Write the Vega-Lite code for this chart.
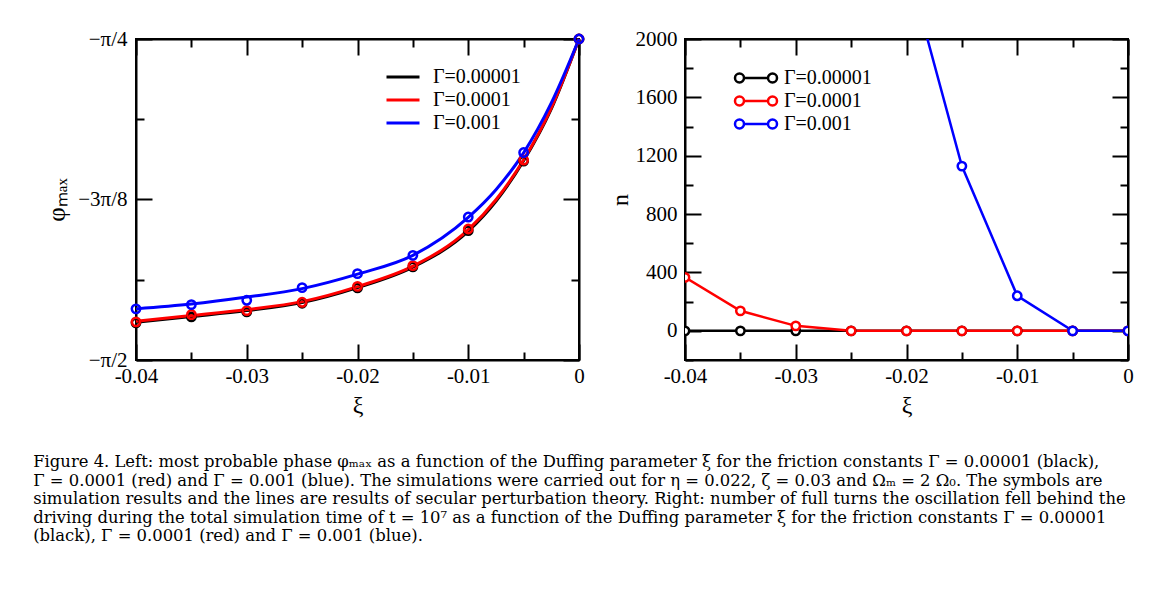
{
  "$schema": "https://vega.github.io/schema/vega-lite/v6.json",
  "background": "white",
  "padding": {"left": 33, "top": 27, "right": 5, "bottom": 5},
  "config": {
    "font": "Liberation Serif",
    "view": {"stroke": "black", "strokeWidth": 2},
    "axis": {
      "labelFont": "Liberation Serif", "labelFontSize": 21, "labelColor": "black", "labelFlush": false, "labelOverlap": false,
      "titleFont": "Liberation Serif", "titleFontSize": 24, "titleFontWeight": "normal", "titleColor": "black",
      "domainColor": "black", "domainWidth": 2, "tickColor": "black", "tickWidth": 2, "grid": false
    },
    "legend": {
      "labelFont": "Liberation Serif", "labelFontSize": 20, "labelColor": "black", "padding": 0
    }
  },
  "datasets": {
    "phase_lines": [
      {"xi": -0.04, "phi": -1.4785, "g": "Γ=0.00001"},
      {"xi": -0.035, "phi": -1.4645, "g": "Γ=0.00001"},
      {"xi": -0.03, "phi": -1.4499, "g": "Γ=0.00001"},
      {"xi": -0.025, "phi": -1.4303, "g": "Γ=0.00001"},
      {"xi": -0.02, "phi": -1.3937, "g": "Γ=0.00001"},
      {"xi": -0.015, "phi": -1.3436, "g": "Γ=0.00001"},
      {"xi": -0.01, "phi": -1.2557, "g": "Γ=0.00001"},
      {"xi": -0.0075, "phi": -1.1824, "g": "Γ=0.00001"},
      {"xi": -0.005, "phi": -1.0834, "g": "Γ=0.00001"},
      {"xi": -0.0025, "phi": -0.9564, "g": "Γ=0.00001"},
      {"xi": 0, "phi": -0.7854, "g": "Γ=0.00001"},
      {"xi": -0.04, "phi": -1.4760, "g": "Γ=0.0001"},
      {"xi": -0.035, "phi": -1.4621, "g": "Γ=0.0001"},
      {"xi": -0.03, "phi": -1.4474, "g": "Γ=0.0001"},
      {"xi": -0.025, "phi": -1.4279, "g": "Γ=0.0001"},
      {"xi": -0.02, "phi": -1.3912, "g": "Γ=0.0001"},
      {"xi": -0.015, "phi": -1.3412, "g": "Γ=0.0001"},
      {"xi": -0.01, "phi": -1.2520, "g": "Γ=0.0001"},
      {"xi": -0.0075, "phi": -1.1787, "g": "Γ=0.0001"},
      {"xi": -0.005, "phi": -1.0810, "g": "Γ=0.0001"},
      {"xi": -0.0025, "phi": -0.9540, "g": "Γ=0.0001"},
      {"xi": 0, "phi": -0.7854, "g": "Γ=0.0001"},
      {"xi": -0.04, "phi": -1.4457, "g": "Γ=0.001"},
      {"xi": -0.035, "phi": -1.4340, "g": "Γ=0.001"},
      {"xi": -0.03, "phi": -1.4169, "g": "Γ=0.001"},
      {"xi": -0.025, "phi": -1.3961, "g": "Γ=0.001"},
      {"xi": -0.02, "phi": -1.3607, "g": "Γ=0.001"},
      {"xi": -0.015, "phi": -1.3148, "g": "Γ=0.001"},
      {"xi": -0.01, "phi": -1.2220, "g": "Γ=0.001"},
      {"xi": -0.0075, "phi": -1.1543, "g": "Γ=0.001"},
      {"xi": -0.005, "phi": -1.0639, "g": "Γ=0.001"},
      {"xi": -0.0025, "phi": -0.9418, "g": "Γ=0.001"},
      {"xi": 0, "phi": -0.7854, "g": "Γ=0.001"}
    ],
    "phase_pts": [
      {"xi": -0.04, "phi": -1.4799, "g": "Γ=0.00001"},
      {"xi": -0.035, "phi": -1.4653, "g": "Γ=0.00001"},
      {"xi": -0.03, "phi": -1.4531, "g": "Γ=0.00001"},
      {"xi": -0.025, "phi": -1.4320, "g": "Γ=0.00001"},
      {"xi": -0.02, "phi": -1.3944, "g": "Γ=0.00001"},
      {"xi": -0.015, "phi": -1.3431, "g": "Γ=0.00001"},
      {"xi": -0.01, "phi": -1.2544, "g": "Γ=0.00001"},
      {"xi": -0.005, "phi": -1.0842, "g": "Γ=0.00001"},
      {"xi": 0, "phi": -0.7854, "g": "Γ=0.00001"},
      {"xi": -0.04, "phi": -1.4775, "g": "Γ=0.0001"},
      {"xi": -0.035, "phi": -1.4596, "g": "Γ=0.0001"},
      {"xi": -0.03, "phi": -1.4499, "g": "Γ=0.0001"},
      {"xi": -0.025, "phi": -1.4296, "g": "Γ=0.0001"},
      {"xi": -0.02, "phi": -1.3905, "g": "Γ=0.0001"},
      {"xi": -0.015, "phi": -1.3399, "g": "Γ=0.0001"},
      {"xi": -0.01, "phi": -1.2503, "g": "Γ=0.0001"},
      {"xi": -0.005, "phi": -1.0817, "g": "Γ=0.0001"},
      {"xi": 0, "phi": -0.7854, "g": "Γ=0.0001"},
      {"xi": -0.04, "phi": -1.4457, "g": "Γ=0.001"},
      {"xi": -0.035, "phi": -1.4352, "g": "Γ=0.001"},
      {"xi": -0.03, "phi": -1.4247, "g": "Γ=0.001"},
      {"xi": -0.025, "phi": -1.3937, "g": "Γ=0.001"},
      {"xi": -0.02, "phi": -1.3595, "g": "Γ=0.001"},
      {"xi": -0.015, "phi": -1.3148, "g": "Γ=0.001"},
      {"xi": -0.01, "phi": -1.2210, "g": "Γ=0.001"},
      {"xi": -0.005, "phi": -1.0632, "g": "Γ=0.001"},
      {"xi": 0, "phi": -0.7854, "g": "Γ=0.001"}
    ],
    "turns": [
      {"xi": -0.04, "n": 0, "g": "Γ=0.00001"},
      {"xi": -0.035, "n": 0, "g": "Γ=0.00001"},
      {"xi": -0.03, "n": 0, "g": "Γ=0.00001"},
      {"xi": -0.025, "n": 0, "g": "Γ=0.00001"},
      {"xi": -0.02, "n": 0, "g": "Γ=0.00001"},
      {"xi": -0.015, "n": 0, "g": "Γ=0.00001"},
      {"xi": -0.01, "n": 0, "g": "Γ=0.00001"},
      {"xi": -0.005, "n": 0, "g": "Γ=0.00001"},
      {"xi": 0, "n": 0, "g": "Γ=0.00001"},
      {"xi": -0.04, "n": 366, "g": "Γ=0.0001"},
      {"xi": -0.035, "n": 137, "g": "Γ=0.0001"},
      {"xi": -0.03, "n": 34, "g": "Γ=0.0001"},
      {"xi": -0.025, "n": 0, "g": "Γ=0.0001"},
      {"xi": -0.02, "n": 0, "g": "Γ=0.0001"},
      {"xi": -0.015, "n": 0, "g": "Γ=0.0001"},
      {"xi": -0.01, "n": 0, "g": "Γ=0.0001"},
      {"xi": -0.005, "n": 0, "g": "Γ=0.0001"},
      {"xi": 0, "n": 0, "g": "Γ=0.0001"},
      {"xi": -0.02, "n": 2530, "g": "Γ=0.001"},
      {"xi": -0.015, "n": 1129, "g": "Γ=0.001"},
      {"xi": -0.01, "n": 240, "g": "Γ=0.001"},
      {"xi": -0.005, "n": 0, "g": "Γ=0.001"},
      {"xi": 0, "n": 0, "g": "Γ=0.001"}
    ]
  },
  "title": {
    "text": [
      "Figure 4. Left: most probable phase φₘₐₓ as a function of the Duffing parameter ξ for the friction constants Γ = 0.00001 (black),",
      "Γ = 0.0001 (red) and Γ = 0.001 (blue). The simulations were carried out for η = 0.022, ζ = 0.03 and Ωₘ = 2 Ω₀. The symbols are",
      "simulation results and the lines are results of secular perturbation theory. Right: number of full turns the oscillation fell behind the",
      "driving during the total simulation time of t = 10⁷ as a function of the Duffing parameter ξ for the friction constants Γ = 0.00001",
      "(black), Γ = 0.0001 (red) and Γ = 0.001 (blue)."
    ],
    "orient": "bottom", "anchor": "start", "font": "DejaVu Serif", "fontSize": 16.4, "fontWeight": "normal",
    "lineHeight": 18.6, "offset": 36, "dx": -10.5, "color": "black"
  },
  "spacing": 17,
  "resolve": {"scale": {"color": "independent"}, "legend": {"color": "independent"}},
  "hconcat": [
    {
      "width": 443, "height": 321,
      "resolve": {"axis": {"x": "independent", "y": "independent"}},
      "layer": [
        {
          "data": {"name": "phase_lines"},
          "mark": {"type": "line", "strokeWidth": 3, "interpolate": "monotone"},
          "encoding": {
            "x": {"field": "xi", "type": "quantitative", "scale": {"domain": [-0.04, 0], "nice": false, "zero": false},
              "axis": {"orient": "bottom", "title": "ξ", "values": [-0.04, -0.035, -0.03, -0.025, -0.02, -0.015, -0.01, -0.005, 0],
                "labelExpr": "abs(round(datum.value*200))%2==1 ? '' : replace(format(datum.value,'.2~f'),'−','-')",
                "tickSize": {"condition": {"test": "abs(round(datum.value*200))%2==1", "value": -8}, "value": -16},
                "labelPadding": 21, "titlePadding": -1}},
            "y": {"field": "phi", "type": "quantitative", "scale": {"domain": [-1.5707963, -0.7853982], "nice": false, "zero": false},
              "axis": {"orient": "left", "title": "φₘₐₓ", "titleFontSize": 25, "values": [-1.5707963, -1.3744468, -1.1780972, -0.9817477, -0.7853982],
                "labelExpr": "abs(datum.value+1.5708)<0.01 ? '−π/2' : abs(datum.value+1.1781)<0.01 ? '−3π/8' : abs(datum.value+0.7854)<0.01 ? '−π/4' : ''",
                "tickSize": {"condition": {"test": "abs(datum.value+1.3744)<0.01 || abs(datum.value+0.9817)<0.01", "value": -8}, "value": -16},
                "labelPadding": 25, "titlePadding": 8}},
            "color": {"field": "g", "type": "nominal",
              "scale": {"domain": ["Γ=0.00001", "Γ=0.0001", "Γ=0.001"], "range": ["#000000", "#ff0000", "#0000ff"]},
              "legend": {"title": null, "orient": "none", "legendX": 257, "legendY": 28, "symbolType": "M-3.3,0L3.3,0", "symbolSize": 100,
                "symbolStrokeWidth": 3, "labelOffset": 20, "rowPadding": 3}}
          }
        },
        {
          "data": {"name": "phase_pts"},
          "mark": {"type": "point", "shape": "circle", "filled": false, "size": 70, "strokeWidth": 2.5, "opacity": 1},
          "encoding": {
            "x": {"field": "xi", "type": "quantitative", "scale": {"domain": [-0.04, 0], "nice": false, "zero": false},
              "axis": {"orient": "top", "title": null, "labels": false, "values": [-0.04, -0.035, -0.03, -0.025, -0.02, -0.015, -0.01, -0.005, 0],
                "tickSize": {"condition": {"test": "abs(round(datum.value*200))%2==1", "value": -8}, "value": -16}}},
            "y": {"field": "phi", "type": "quantitative", "scale": {"domain": [-1.5707963, -0.7853982], "nice": false, "zero": false},
              "axis": {"orient": "right", "title": null, "labels": false, "minExtent": 0, "values": [-1.5707963, -1.3744468, -1.1780972, -0.9817477, -0.7853982],
                "tickSize": {"condition": {"test": "abs(datum.value+1.3744)<0.01 || abs(datum.value+0.9817)<0.01", "value": -8}, "value": -16}}},
            "color": {"field": "g", "type": "nominal",
              "scale": {"domain": ["Γ=0.00001", "Γ=0.0001", "Γ=0.001"], "range": ["#000000", "#ff0000", "#0000ff"]},
              "legend": null}
          }
        }
      ]
    },
    {
      "width": 443, "height": 321,
      "resolve": {"axis": {"x": "independent", "y": "independent"}},
      "layer": [
        {
          "data": {"name": "turns"},
          "mark": {"type": "line", "strokeWidth": 2.5, "clip": true},
          "encoding": {
            "x": {"field": "xi", "type": "quantitative", "scale": {"domain": [-0.04, 0], "nice": false, "zero": false},
              "axis": {"orient": "bottom", "title": "ξ", "values": [-0.04, -0.035, -0.03, -0.025, -0.02, -0.015, -0.01, -0.005, 0],
                "labelExpr": "abs(round(datum.value*200))%2==1 ? '' : replace(format(datum.value,'.2~f'),'−','-')",
                "tickSize": {"condition": {"test": "abs(round(datum.value*200))%2==1", "value": -8}, "value": -16},
                "labelPadding": 21, "titlePadding": -1}},
            "y": {"field": "n", "type": "quantitative", "scale": {"domain": [-200, 2000], "nice": false, "zero": false},
              "axis": {"orient": "left", "title": "n", "values": [-200, 0, 200, 400, 600, 800, 1000, 1200, 1400, 1600, 1800, 2000],
                "labelExpr": "datum.value % 400 == 0 ? format(datum.value,'d') : ''",
                "tickSize": {"condition": {"test": "datum.value % 400 != 0", "value": -8}, "value": -16},
                "labelPadding": 24, "titlePadding": 3}},
            "color": {"field": "g", "type": "nominal",
              "scale": {"domain": ["Γ=0.00001", "Γ=0.0001", "Γ=0.001"], "range": ["#000000", "#ff0000", "#0000ff"]},
              "legend": {"title": null, "orient": "none", "legendX": 61, "legendY": 29,
                "symbolType": "M-2.4,0L2.4,0M-4.2,0a0.9,0.9 0 1,0 1.8,0a0.9,0.9 0 1,0 -1.8,0M2.4,0a0.9,0.9 0 1,0 1.8,0a0.9,0.9 0 1,0 -1.8,0",
                "symbolSize": 100, "symbolStrokeWidth": 2.5, "symbolFillColor": "white", "labelOffset": 18, "rowPadding": 3,
                "encode": {"symbols": {"update": {"fill": {"value": "white"}}}}}}
          }
        },
        {
          "data": {"name": "turns"},
          "mark": {"type": "point", "shape": "circle", "filled": false, "fill": "white", "size": 70, "strokeWidth": 2.5, "opacity": 1, "clip": true},
          "encoding": {
            "x": {"field": "xi", "type": "quantitative", "scale": {"domain": [-0.04, 0], "nice": false, "zero": false},
              "axis": {"orient": "top", "title": null, "labels": false, "values": [-0.04, -0.035, -0.03, -0.025, -0.02, -0.015, -0.01, -0.005, 0],
                "tickSize": {"condition": {"test": "abs(round(datum.value*200))%2==1", "value": -8}, "value": -16}}},
            "y": {"field": "n", "type": "quantitative", "scale": {"domain": [-200, 2000], "nice": false, "zero": false},
              "axis": {"orient": "right", "title": null, "labels": false, "minExtent": 0, "values": [-200, 0, 200, 400, 600, 800, 1000, 1200, 1400, 1600, 1800, 2000],
                "tickSize": {"condition": {"test": "datum.value % 400 != 0", "value": -8}, "value": -16}}},
            "color": {"field": "g", "type": "nominal",
              "scale": {"domain": ["Γ=0.00001", "Γ=0.0001", "Γ=0.001"], "range": ["#000000", "#ff0000", "#0000ff"]},
              "legend": null}
          }
        }
      ]
    }
  ]
}
